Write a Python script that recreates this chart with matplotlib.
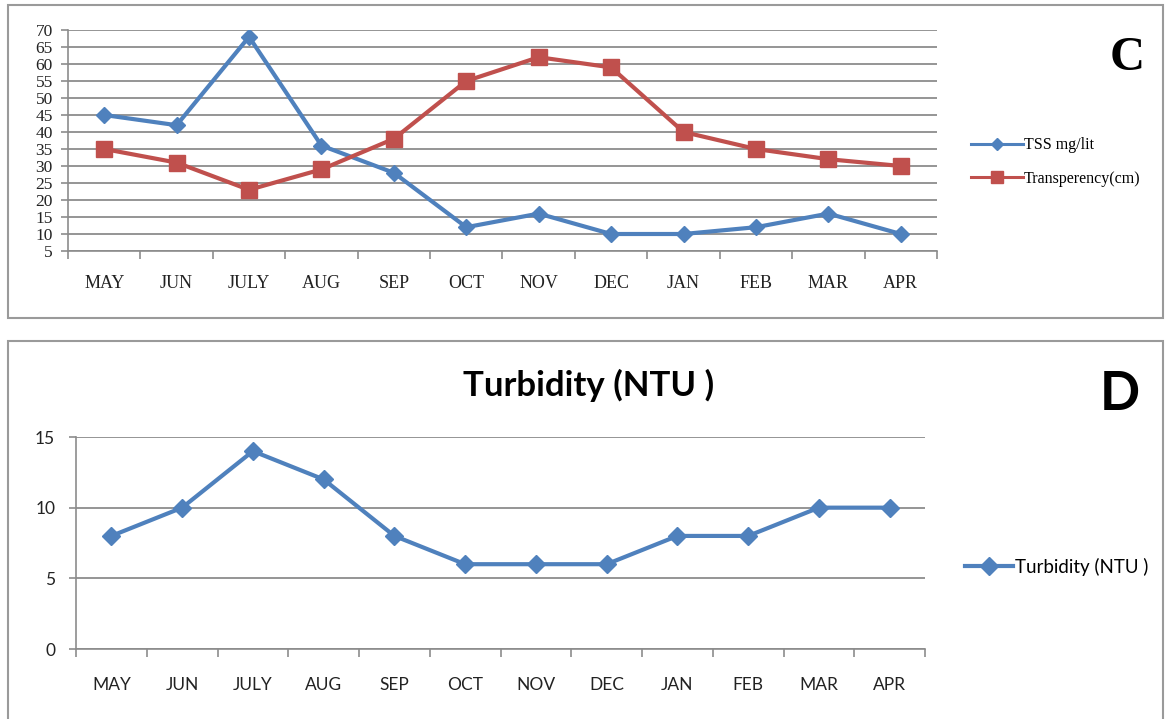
import matplotlib.pyplot as plt
from matplotlib.patches import Rectangle
from matplotlib.lines import Line2D
import numpy as np

months = ['MAY', 'JUN', 'JULY', 'AUG', 'SEP', 'OCT', 'NOV', 'DEC', 'JAN', 'FEB', 'MAR', 'APR']
tss = [45, 42, 68, 36, 28, 12, 16, 10, 10, 12, 16, 10]
transparency = [35, 31, 23, 29, 38, 55, 62, 59, 40, 35, 32, 30]
turbidity = [8, 10, 14, 12, 8, 6, 6, 6, 8, 8, 10, 10]

BLUE = '#4F81BD'
RED = '#C0504D'
GRID = '#8C8C8C'

W, H = 1166, 719
fig = plt.figure(figsize=(W / 100, H / 100), dpi=100)

def fx(px):
    return px / W

def fy(py):
    return 1 - py / H

# panel frames
for (x0, y0, x1, y1) in [(8, 5, 1163, 318), (8, 341, 1163, 725)]:
    fig.add_artist(Rectangle((fx(x0), fy(y1)), fx(x1) - fx(x0), fy(y0) - fy(y1),
                             transform=fig.transFigure, fill=False,
                             edgecolor='#9A9A9A', lw=1.5))

x = np.arange(len(months))

def style_axes(ax, font, xsize, ysize, color):
    for s in ['top', 'right']:
        ax.spines[s].set_visible(False)
    for s in ['left', 'bottom']:
        ax.spines[s].set_color(GRID)
        ax.spines[s].set_linewidth(1.2)
    ax.set_xlim(-0.5, len(months) - 0.5)
    ax.set_xticks(x)
    ax.set_xticklabels(months)
    ax.set_xticks(np.arange(len(months) + 1) - 0.5, minor=True)
    ax.tick_params(axis='x', which='major', length=0, labelsize=xsize,
                   labelcolor=color, labelfontfamily=font)
    ax.tick_params(axis='x', which='minor', length=6, color=GRID, width=1.2)
    ax.tick_params(axis='y', length=5, color=GRID, width=1.2, labelsize=ysize,
                   labelcolor=color, labelfontfamily=font)
    ax.yaxis.grid(True, color=GRID, lw=1.3)
    ax.set_axisbelow(True)

# --- panel C ---
ax1 = fig.add_axes([fx(68), fy(251), fx(937) - fx(68), fy(30) - fy(251)])
ax1.plot(x, tss, color=BLUE, lw=3, marker='D', ms=8.5, label='TSS mg/lit')
ax1.plot(x, transparency, color=RED, lw=3, marker='s', ms=11.5, label='Transperency(cm)')
ax1.set_ylim(5, 70)
ax1.set_yticks(range(5, 71, 5))
style_axes(ax1, 'Liberation Serif', 13, 12.5, '#222222')
ax1.tick_params(axis='x', which='major', pad=17)
ax1.tick_params(axis='y', pad=6)
ax1.legend(handles=[
    Line2D([], [], color=BLUE, lw=2.2, marker='D', ms=6),
    Line2D([], [], color=RED, lw=2.2, marker='s', ms=8)],
    labels=['TSS mg/lit', 'Transperency(cm)'],
    loc='center left', bbox_to_anchor=(fx(965), fy(162)), bbox_transform=fig.transFigure,
    frameon=False, prop={'family': 'Liberation Serif', 'size': 11.5},
    handlelength=3.2, handletextpad=0.1, labelspacing=1.1, borderaxespad=0)
fig.text(fx(1127), fy(58), 'C', fontfamily='Liberation Serif', fontweight='bold',
         fontsize=35, ha='center', va='center')

# --- panel D ---
ax2 = fig.add_axes([fx(76), fy(649), fx(925) - fx(76), fy(437) - fy(649)])
ax2.plot(x, turbidity, color=BLUE, lw=3, marker='D', ms=9, label='Turbidity (NTU )')
ax2.set_ylim(0, 15)
ax2.set_yticks([0, 5, 10, 15])
style_axes(ax2, 'Lato', 12.5, 12.5, '#222222')
ax2.tick_params(axis='y', pad=10)
ax2.tick_params(axis='x', which='major', pad=20)
ax2.legend(loc='center left', bbox_to_anchor=(fx(957), fy(567)), bbox_transform=fig.transFigure,
           frameon=False, prop={'family': 'Lato', 'size': 13.5},
           handlelength=2.6, handletextpad=0.1, borderaxespad=0)
fig.text(fx(589), fy(385), 'Turbidity (NTU )', fontfamily='Lato', fontweight='bold',
         fontsize=25, ha='center', va='center')
fig.text(fx(1120), fy(395), 'D', fontfamily='Lato', fontweight='bold',
         fontsize=38, ha='center', va='center')

fig.savefig('out.png', dpi=100, facecolor='white')
